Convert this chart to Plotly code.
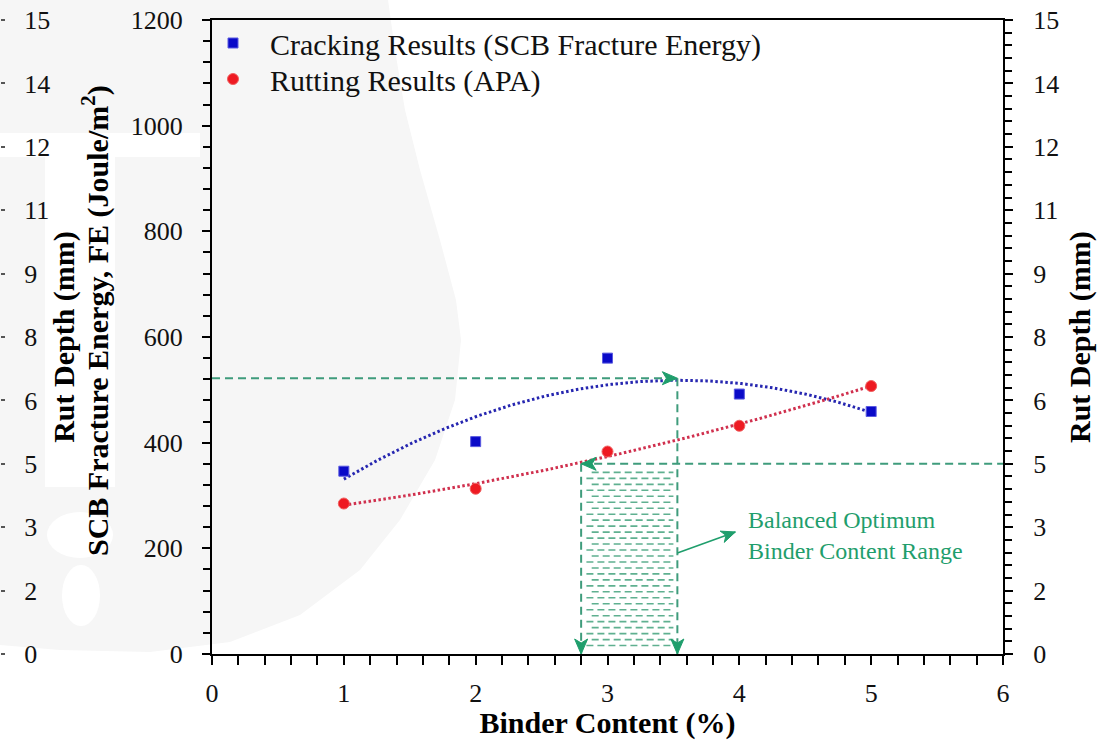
import numpy as np
import plotly.graph_objects as go

# ---- data -------------------------------------------------------------
binder_content = [1, 2, 3, 4, 5]                     # %
fracture_energy = [346, 402, 560, 492, 459]          # SCB FE, J/m^2
rut_depth = [3.56, 3.91, 4.79, 5.40, 6.34]           # APA rut depth, mm

fe_tickvals = [0, 200, 400, 600, 800, 1000, 1200]
rut_tickvals = [0, 1.5, 3, 4.5, 6, 7.5, 9, 10.5, 12, 13.5, 15]
rut_ticktext = ["0", "2", "3", "5", "6", "8", "9", "11", "12", "14", "15"]

# balanced optimum binder content range
fe_optimum = 522          # J/m^2 at the peak of the cracking trend
binder_optimum = 3.53     # % (upper bound, cracking)
binder_low = 2.8          # % (lower bound, rutting)
rut_limit = 4.5           # mm

# ---- styling ----------------------------------------------------------
W, H = 1103, 740
FONT = "Liberation Serif"
GREEN_LINE = "#3f9c7c"
GREEN = "#1f9e6c"
BLUE = "#0a0ac8"
RED = "#ee1a22"
CLEAR = "rgba(0,0,0,0)"

X_RANGE = (0, 6)
FE_RANGE = (0, 1200)
RUT_RANGE = (0, 15)
X0, X1 = 212 / W, 1003 / W
Y0, Y1 = 1 - 654 / H, 1 - 20 / H
PX_PER_X = (X1 - X0) * W / (X_RANGE[1] - X_RANGE[0])
PX_PER_FE = (Y1 - Y0) * H / (FE_RANGE[1] - FE_RANGE[0])


def px(x, y):
    """pixel position -> paper coordinates"""
    return x / W, 1 - y / H


# ---- quadratic trend lines --------------------------------------------
xs = np.linspace(min(binder_content), max(binder_content), 200)
fe_fit = np.polyval(np.polyfit(binder_content, fracture_energy, 2), xs)
rut_fit = np.polyval(np.polyfit(binder_content, rut_depth, 2), xs)

fig = go.Figure()
fig.add_trace(go.Scatter(x=xs, y=fe_fit, mode="lines", yaxis="y",
                         line=dict(color="#2626b0", width=3, dash="2.5px,2.5px"),
                         showlegend=False, hoverinfo="skip"))
fig.add_trace(go.Scatter(x=xs, y=rut_fit, mode="lines", yaxis="y2",
                         line=dict(color="#d0304e", width=3, dash="2.5px,2.5px"),
                         showlegend=False, hoverinfo="skip"))
fig.add_trace(go.Scatter(x=binder_content, y=fracture_energy, mode="markers", yaxis="y",
                         name="Cracking Results (SCB Fracture Energy)", legend="legend",
                         marker=dict(symbol="square", size=10, color=BLUE,
                                     line=dict(width=1, color="#5a5ae0"))))
fig.add_trace(go.Scatter(x=binder_content, y=rut_depth, mode="markers", yaxis="y2",
                         name="Rutting Results (APA)", legend="legend2",
                         marker=dict(symbol="circle", size=11, color=RED,
                                     line=dict(width=1, color="#f06060"))))
# invisible copies that anchor the label-only axes
for ax_name, yv in (("y3", rut_depth), ("y4", fracture_energy), ("y5", rut_depth)):
    fig.add_trace(go.Scatter(x=binder_content, y=yv, mode="markers", yaxis=ax_name,
                             marker=dict(opacity=0), showlegend=False, hoverinfo="skip"))

shapes = []

# faint watermark behind the left part of the figure
blob = [(0, 0), (388, 0), (395, 50), (405, 110), (420, 170), (440, 240), (456, 300),
        (461, 340), (455, 400), (435, 460), (400, 520), (360, 570), (300, 615),
        (230, 642), (150, 652), (60, 650), (0, 645)]
path = "M " + " L ".join("{:.4f},{:.4f}".format(*px(x, y)) for x, y in blob) + " Z"
shapes.append(dict(type="path", path=path, xref="paper", yref="paper",
                   fillcolor="#f6f6f6", line=dict(width=0), layer="below"))
for (xa, ya, xb, yb, kind) in [(45, 140, 115, 487, "rect"), (0, 133, 200, 157, "rect"),
                               (47, 512, 113, 558, "circle"), (62, 565, 100, 626, "circle")]:
    a, b = px(xa, ya)
    c, d = px(xb, yb)
    shapes.append(dict(type=kind, xref="paper", yref="paper", x0=a, y0=b, x1=c, y1=d,
                       fillcolor="white", line=dict(width=0), layer="below"))

dash_line = dict(color=GREEN_LINE, width=2, dash="8px,5px")
# optimum fracture energy level and its binder content
shapes.append(dict(type="line", xref="x", yref="y", x0=0, x1=binder_optimum,
                   y0=fe_optimum, y1=fe_optimum, line=dash_line))
shapes.append(dict(type="line", xref="x", yref="y", x0=binder_optimum, x1=binder_optimum,
                   y0=fe_optimum, y1=0, line=dash_line))
# rut depth limit and its binder content
shapes.append(dict(type="line", xref="x", yref="y2", x0=binder_low, x1=X_RANGE[1],
                   y0=rut_limit, y1=rut_limit, line=dash_line))
shapes.append(dict(type="line", xref="x", yref="y2", x0=binder_low, x1=binder_low,
                   y0=rut_limit, y1=0, line=dash_line))

# dashed hatching of the balanced range
hatch_top = rut_limit * FE_RANGE[1] / RUT_RANGE[1] - 14
rows = np.arange(16, hatch_top, 11.3)
for i, yv in enumerate(rows):
    shift = 0.04 if i % 2 else 0.0
    shapes.append(dict(type="line", xref="x", yref="y",
                       x0=binder_low + 0.04 + shift, x1=binder_optimum - 0.03,
                       y0=yv, y1=yv,
                       line=dict(color="#5fb090", width=1.6, dash="7px,4px")))


def arrow_head(x, y, yref, ux, uy, size=15, half=6.5, notch=4):
    """barbed arrowhead with its tip at (x, y), pointing along (ux, uy) in
    screen pixels with +y upwards"""
    n = np.hypot(ux, uy)
    ux, uy = ux / n, uy / n
    vx, vy = -uy, ux
    pts = [(0, 0),
           (-size * ux + half * vx, -size * uy + half * vy),
           (-(size - notch) * ux, -(size - notch) * uy),
           (-size * ux - half * vx, -size * uy - half * vy)]
    p = "M " + " L ".join("{:.2f},{:.2f}".format(a, b) for a, b in pts) + " Z"
    shapes.append(dict(type="path", path=p, xref="x", yref=yref,
                       xsizemode="pixel", ysizemode="pixel", xanchor=x, yanchor=y,
                       fillcolor=GREEN, line=dict(color=GREEN, width=1)))


arrow_head(binder_optimum, fe_optimum, "y", 1, 0)
arrow_head(binder_optimum, 0, "y", 0, -1)
arrow_head(binder_low, rut_limit, "y2", -1, 0)
arrow_head(binder_low, 0, "y", 0, -1)

# pointer from the hatched range to its label
tail = (3.53, 191)
tip = (3.97, 231)
shapes.append(dict(type="line", xref="x", yref="y", x0=tail[0], y0=tail[1],
                   x1=tip[0], y1=tip[1], line=dict(color=GREEN, width=1.6)))
arrow_head(tip[0], tip[1], "y",
           (tip[0] - tail[0]) * PX_PER_X, (tip[1] - tail[1]) * PX_PER_FE,
           size=14, half=6, notch=4)

title_font = dict(family=FONT, size=30, color="black")
tick_font = dict(family=FONT, size=26, color="#111111")
legend_font = dict(family=FONT, size=30, color="#111111")

annotations = [
    dict(x=4.88, y=225, xref="x", yref="y", showarrow=False,
         text="Balanced Optimum<br>Binder Content Range",
         font=dict(family=FONT, size=24, color=GREEN), align="left"),
    dict(x=95 / W, y=1 - 321 / H, xref="paper", yref="paper", showarrow=False,
         xanchor="center", yanchor="middle", textangle=-90, font=title_font,
         text="<b>SCB Fracture Energy, FE (Joule/m<sup>2</sup>)</b>"),
    dict(x=1080 / W, y=1 - 337 / H, xref="paper", yref="paper", showarrow=False,
         xanchor="center", yanchor="middle", textangle=-90, font=title_font,
         text="<b>Rut Depth (mm)</b>"),
]

legend_common = dict(x=196 / W, xanchor="left", yanchor="middle", bgcolor=CLEAR,
                     font=legend_font, itemwidth=64)

tick_style = dict(ticks="outside", tickwidth=1.5, tickcolor="black")
plain = dict(showgrid=False, zeroline=False, automargin=False)

fig.update_layout(
    width=W, height=H,
    margin=dict(l=0, r=0, t=0, b=0),
    paper_bgcolor="white", plot_bgcolor=CLEAR,
    font=dict(family=FONT, color="black"),
    shapes=shapes, annotations=annotations,
    showlegend=True,
    legend=dict(y=1 - 43 / H, **legend_common),
    legend2=dict(y=1 - 79 / H, **legend_common),
    xaxis=dict(domain=[X0, X1], range=list(X_RANGE), dtick=1, tick0=0, ticklen=9,
               minor=dict(dtick=0.2, ticklen=9, **tick_style), **tick_style,
               showline=True, linewidth=2, linecolor="black", mirror=True, **plain,
               tickfont=tick_font, ticklabelstandoff=6,
               title=dict(text="<b>Binder Content (%)</b>", font=title_font, standoff=0)),
    # fracture energy scale: ticks on the frame, labels on a companion axis
    yaxis=dict(domain=[Y0, Y1], range=list(FE_RANGE), tickvals=fe_tickvals, ticklen=8,
               minor=dict(dtick=40, ticklen=7, **tick_style), **tick_style,
               showline=True, linewidth=2, linecolor="black", showticklabels=False, **plain),
    yaxis4=dict(overlaying="y", side="left", anchor="free", position=X0,
                range=list(FE_RANGE), tickvals=fe_tickvals, ticks="outside", ticklen=24,
                tickcolor=CLEAR, showline=False, tickfont=tick_font, **plain),
    # rut depth scale on the right
    yaxis2=dict(overlaying="y", side="right", anchor="x", range=list(RUT_RANGE),
                tickvals=rut_tickvals, ticklen=8,
                minor=dict(dtick=0.3, tick0=0, ticklen=7, **tick_style), **tick_style,
                showline=True, linewidth=2, linecolor="black", showticklabels=False, **plain),
    yaxis5=dict(overlaying="y", side="right", anchor="free", position=X1,
                range=list(RUT_RANGE), tickvals=rut_tickvals, ticktext=rut_ticktext,
                ticks="outside", ticklen=24, tickcolor=CLEAR, showline=False,
                tickfont=tick_font, **plain),
    # outer rut depth scale at the far left
    yaxis3=dict(overlaying="y", side="right", anchor="free", position=0, range=list(RUT_RANGE),
                tickvals=rut_tickvals, ticktext=rut_ticktext,
                ticks="outside", ticklen=4, tickwidth=1.5, tickcolor="#555555",
                showline=False, tickfont=tick_font, ticklabelstandoff=14, **plain,
                title=dict(text="<b>Rut Depth (mm)</b>", font=title_font, standoff=3)),
)

fig.write_html("out.html")
